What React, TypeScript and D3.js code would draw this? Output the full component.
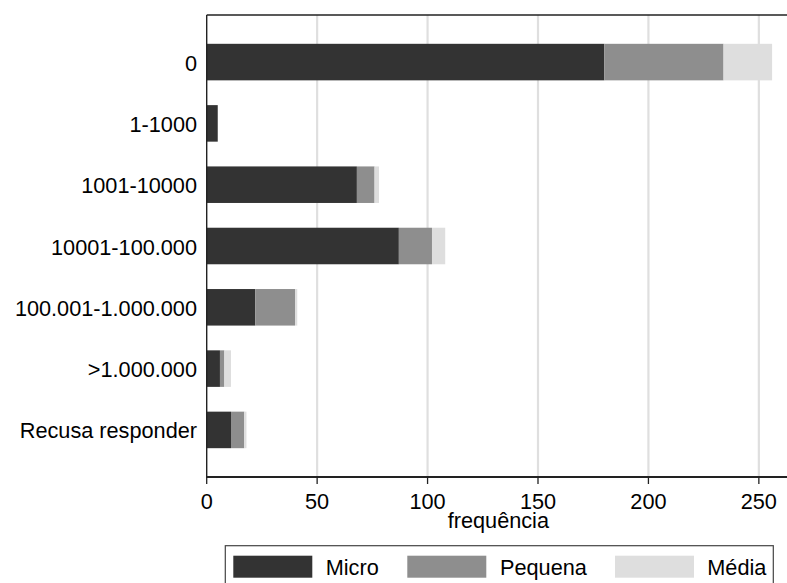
import React from "react";
import * as d3 from "d3";

const categories = ["0", "1-1000", "1001-10000", "10001-100.000", "100.001-1.000.000", ">1.000.000", "Recusa responder"];
const micro = [180, 5, 68, 87, 22, 6, 11];
const pequena = [54, 0, 8, 15, 18, 2, 6];
const media = [22, 0, 2, 6, 1, 3, 1];
const seriesNames = ["Micro", "Pequena", "Média"];
const xTicks = [0, 50, 100, 150, 200, 250];

const colors = ["#333333", "#8e8e8e", "#dedede"];
const FONT = "Arial, 'Liberation Sans', sans-serif";
const FS = 21.7;

export default function App() {
  const W = 787, H = 583;
  const left = 206.7, right = 790, top = 15, bottom = 477;
  const x = d3.scaleLinear().domain([0, 264.1]).range([left, right]);
  const y = d3.scaleBand<string>().domain(categories).range([top, bottom]).paddingInner(0.404).paddingOuter(0.47);

  const rows = categories.map((c, i) => ({ cat: c, Micro: micro[i], Pequena: pequena[i], "Média": media[i] }));
  const stack = d3.stack<any>().keys(seriesNames)(rows);

  const legendItems = [
    { key: 233.3, text: 325.7 },
    { key: 407.3, text: 500 },
    { key: 615, text: 707.3 },
  ];

  return (
    <svg width={W} height={H} style={{ position: "absolute", left: 0, top: 0, background: "#fff" }} fontFamily={FONT}>
      <rect x={0} y={0} width={W} height={H} fill="#fff" />
      {/* gridlines */}
      {xTicks.filter((t) => t > 0).map((t) => (
        <line key={"g" + t} x1={x(t)} x2={x(t)} y1={top} y2={bottom} stroke="#dfdfdf" strokeWidth={2.2} />
      ))}
      {/* bars */}
      {stack.map((s, si) =>
        s.map((d, i) =>
          d[1] - d[0] > 0 ? (
            <rect
              key={si + "-" + i}
              x={x(d[0])}
              y={y(categories[i])!}
              width={x(d[1]) - x(d[0])}
              height={y.bandwidth()}
              fill={colors[si]}
            />
          ) : null
        )
      )}
      {/* frame */}
      <line x1={left} x2={W} y1={top} y2={top} stroke="#222" strokeWidth={1.4} />
      <line x1={left} x2={left} y1={top} y2={bottom} stroke="#222" strokeWidth={1.4} />
      <line x1={left - 0.7} x2={W} y1={bottom} y2={bottom} stroke="#222" strokeWidth={2} />
      {/* x ticks */}
      {xTicks.map((t) => (
        <g key={"t" + t}>
          <line x1={x(t)} x2={x(t)} y1={bottom} y2={bottom + 7} stroke="#222" strokeWidth={1.3} />
          <text x={x(t)} y={509} textAnchor="middle" fontSize={FS} fill="#000">
            {t}
          </text>
        </g>
      ))}
      <text x={(left + right) / 2} y={528} textAnchor="middle" fontSize={FS} fill="#000">
        frequência
      </text>
      {/* y labels */}
      {categories.map((c) => (
        <text key={c} x={197} y={y(c)! + y.bandwidth() / 2 + 8.5} textAnchor="end" fontSize={FS} fill="#000">
          {c}
        </text>
      ))}
      {/* legend */}
      <rect x={225.3} y={545.7} width={548} height={44} fill="#fff" stroke="#444" strokeWidth={1.2} />
      {seriesNames.map((n, i) => (
        <g key={n}>
          <rect x={legendItems[i].key} y={555.7} width={79} height={22} fill={colors[i]} />
          <text x={legendItems[i].text} y={575} fontSize={FS} fill="#000">
            {n}
          </text>
        </g>
      ))}
    </svg>
  );
}
